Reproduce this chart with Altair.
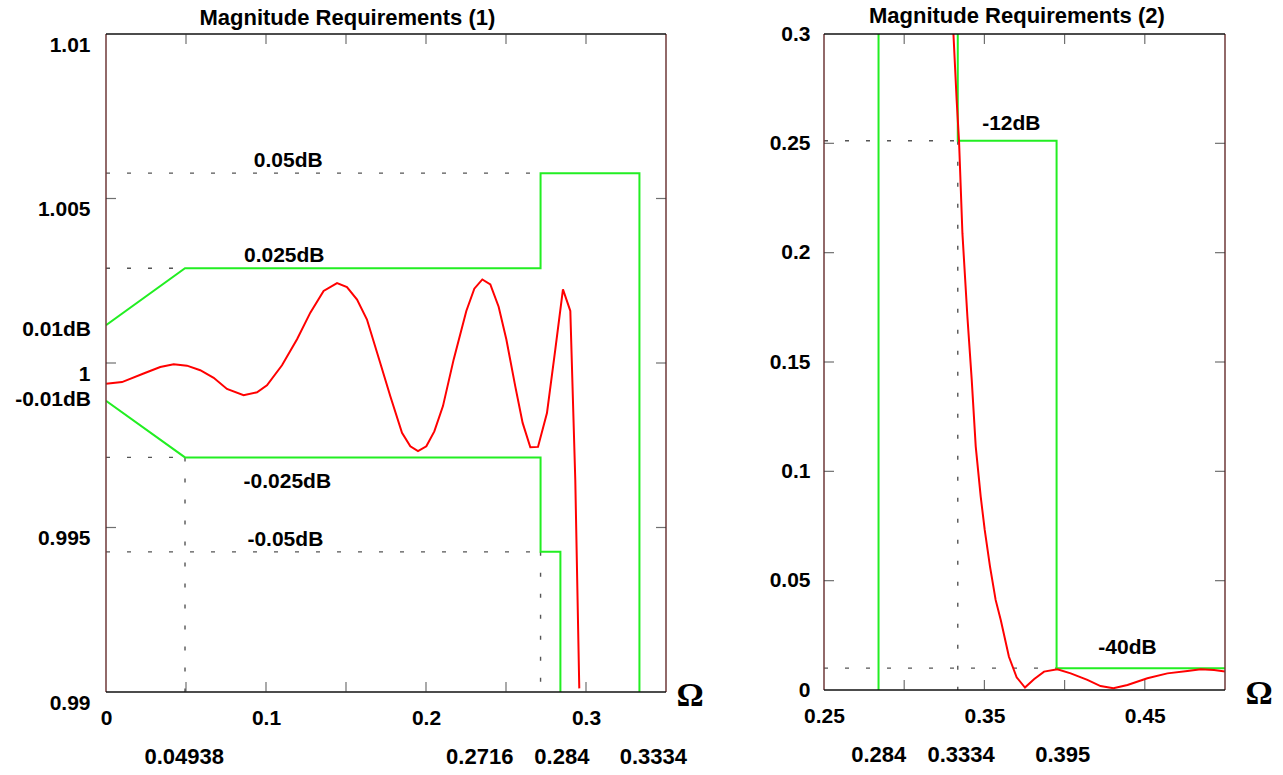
import altair as alt
import pandas as pd

FONT = "Liberation Sans"
GREEN = "#22ee22"
RED = "#ff0000"
DASH = "#555555"
BROWN = "#6e3838"

# ---------------- left panel: passband ----------------
L_XDOM = [0, 0.35]
L_YDOM = [0.99, 1.01]
l_xlabels = [0, 0.1, 0.2, 0.3]
l_ylabels = [0.99, 0.995, 1, 1.005, 1.01]
l_xticks = [0.05, 0.1, 0.15, 0.2, 0.25, 0.3]
l_yticks = [0.995, 1, 1.005]

l_red_x = [0, 0.0100, 0.0235, 0.0339, 0.0423, 0.0506, 0.0589, 0.0673, 0.0756, 0.0860,
           0.0944, 0.1006, 0.1100, 0.1194, 0.1277, 0.1360, 0.1444, 0.1506, 0.1569, 0.1631,
           0.1714, 0.1777, 0.1850, 0.1902, 0.1950, 0.2002, 0.2052, 0.2106, 0.2173, 0.2252,
           0.2302, 0.2352, 0.2402, 0.2454, 0.2502, 0.2558, 0.2604, 0.2652, 0.2700, 0.2756,
           0.2808, 0.2856, 0.2902, 0.2933, 0.2958]
l_red_y = [0.99937, 0.99942, 0.99968, 0.99988, 0.99996, 0.99992, 0.99978, 0.99955, 0.99921, 0.99902,
           0.99911, 0.99932, 0.99993, 1.00072, 1.00153, 1.00219, 1.00243, 1.00231, 1.00193, 1.00132,
           1.00000, 0.99899, 0.99788, 0.99747, 0.99732, 0.99747, 0.99792, 0.99869, 1.00011, 1.00158,
           1.00226, 1.00254, 1.00239, 1.00171, 1.00072, 0.99929, 0.99818, 0.99744, 0.99745, 0.99848,
           1.00041, 1.00224, 1.00158, 0.99645, 0.99011]

l_up_x = [0, 0.04938, 0.2716, 0.2716, 0.3334, 0.3334]
l_up_y = [1.00115, 1.00288, 1.00288, 1.00577, 1.00577, 0.99]
l_lo_x = [0, 0.04938, 0.2716, 0.2716, 0.284, 0.284]
l_lo_y = [0.99885, 0.99713, 0.99713, 0.99426, 0.99426, 0.99]

l_dash_x = [0, 0, 0, 0.04938, 0, 0.2716]
l_dash_x2 = [0.2716, 0.04938, 0.04938, 0.04938, 0.2716, 0.2716]
l_dash_y = [1.00577, 1.00288, 0.99713, 0.99713, 0.99426, 0.99426]
l_dash_y2 = [1.00577, 1.00288, 0.99713, 0.99, 0.99426, 0.99]

l_txt = ["0.05dB", "0.025dB", "-0.025dB", "-0.05dB"]
l_txt_x = [0.1139, 0.1114, 0.1133, 0.1121]
l_txt_y = [1.00614, 1.00325, 0.99638, 0.99461]

l_side_txt = ["0.01dB", "-0.01dB"]
l_side_y = [1.00100, 0.99889]

l_edge_txt = ["0.04938", "0.2716", "0.284", "0.3334"]
l_edge_x = [0.0489, 0.2336, 0.2849, 0.3421]

# ---------------- right panel: stopband ----------------
R_XDOM = [0.25, 0.5]
R_YDOM = [0, 0.3]
r_xlabels = [0.25, 0.35, 0.45]
r_ylabels = [0, 0.05, 0.1, 0.15, 0.2, 0.25, 0.3]
r_xticks = [0.3, 0.35, 0.4, 0.45]
r_yticks = [0.05, 0.1, 0.15, 0.2, 0.25]

r_red_x = [0.3307, 0.3327, 0.3342, 0.3363, 0.3394, 0.3421, 0.3446, 0.3477, 0.3502, 0.3535,
           0.3570, 0.3602, 0.3653, 0.3701, 0.3753, 0.3809, 0.3872, 0.3955, 0.4038, 0.4142,
           0.4224, 0.4304, 0.4392, 0.4516, 0.4641, 0.4766, 0.4849, 0.4932, 0.5]
r_red_y = [0.3, 0.2698, 0.2507, 0.2088, 0.1707, 0.1418, 0.1113, 0.0884, 0.0732, 0.0564,
           0.0412, 0.0320, 0.0152, 0.0058, 0.0011, 0.0049, 0.0084, 0.0095, 0.0076, 0.0046,
           0.0018, 0.0008, 0.0023, 0.0054, 0.0076, 0.0087, 0.0095, 0.0091, 0.0084]

r_pass_x = [0.284, 0.284]
r_pass_y = [0, 0.3]
r_stop_x = [0.3334, 0.3334, 0.395, 0.395, 0.5]
r_stop_y = [0.3, 0.2512, 0.2512, 0.01, 0.01]

r_dash_x = [0.25, 0.3334, 0.25]
r_dash_x2 = [0.3334, 0.3334, 0.395]
r_dash_y = [0.2512, 0.2512, 0.01]
r_dash_y2 = [0.2512, 0, 0.01]

r_txt = ["-12dB", "-40dB"]
r_txt_x = [0.3668, 0.4392]
r_txt_y = [0.2588, 0.0194]

r_edge_txt = ["0.284", "0.3334", "0.395"]
r_edge_x = [0.2841, 0.3355, 0.3988]


def lines_df(series):
    rows = []
    for sid, (xs, ys) in enumerate(series):
        for i, (a, b) in enumerate(zip(xs, ys)):
            rows.append({"x": a, "y": b, "s": sid, "o": i})
    return pd.DataFrame(rows)


def panel(title, title_off, title_dx, xdom, ydom, w, h, xlabels, ylabels, ylab_base, ylab_off,
          ylab_pad, xticks, yticks, red, greens, dashes, texts, edge, omega_dx, side=None):
    xaxis = alt.Axis(values=xlabels, labelExpr="'' + datum.value", ticks=False, domain=False,
                     grid=False, labelFlush=False, labelOverlap=False, labelPadding=15, title=None)
    yaxis = alt.Axis(values=ylabels, labelExpr="'' + datum.value", ticks=False, domain=False,
                     grid=False, labelFlush=False, labelOverlap=False, labelPadding=ylab_pad,
                     labelBaseline=ylab_base, labelOffset=ylab_off, title=None)
    xs = alt.Scale(domain=xdom, nice=False, zero=False)
    ys = alt.Scale(domain=ydom, nice=False, zero=False)

    def X(f="x"):
        return alt.X(f"{f}:Q", scale=xs, axis=xaxis, title=None)

    def Y(f="y"):
        return alt.Y(f"{f}:Q", scale=ys, axis=yaxis, title=None)

    # frame
    frame = pd.DataFrame({
        "x": [xdom[0], xdom[1], xdom[0], xdom[0]],
        "x2": [xdom[0], xdom[1], xdom[1], xdom[1]],
        "y": [ydom[0], ydom[0], ydom[0], ydom[1]],
        "y2": [ydom[1], ydom[1], ydom[0], ydom[1]],
        "c": [BROWN, BROWN, "#111111", "#111111"],
    })
    l_frame = alt.Chart(frame).mark_rule(strokeWidth=1.5).encode(
        x=X(), x2="x2:Q", y=Y(), y2="y2:Q", color=alt.Color("c:N", scale=None))

    # inward ticks
    tv = pd.DataFrame({"x": xticks * 2, "y": [ydom[0]] * len(xticks) + [ydom[1]] * len(xticks)})
    th = pd.DataFrame({"x": [xdom[0]] * len(yticks) + [xdom[1]] * len(yticks), "y": yticks * 2})
    l_tv = alt.Chart(tv).mark_tick(orient="vertical", size=20, thickness=1.2, color="#333333",
                                   clip=True).encode(x=X(), y=Y())
    l_th = alt.Chart(th).mark_tick(orient="horizontal", size=20, thickness=1.2, color="#333333",
                                   clip=True).encode(x=X(), y=Y())

    # dashed guides
    dd = pd.DataFrame({"x": dashes[0], "x2": dashes[1], "y": dashes[2], "y2": dashes[3]})
    l_dash = alt.Chart(dd).mark_rule(color=DASH, strokeWidth=1.4, strokeDash=[4, 17]).encode(
        x=X(), x2="x2:Q", y=Y(), y2="y2:Q")

    # green tolerance mask
    gd = lines_df(greens)
    l_green = alt.Chart(gd).mark_line(color=GREEN, strokeWidth=2, clip=True).encode(
        x=X(), y=Y(), detail="s:N", order="o:Q")

    # red response
    rd = lines_df([red])
    l_red = alt.Chart(rd).mark_line(color=RED, strokeWidth=2, clip=True).encode(
        x=X(), y=Y(), order="o:Q")

    # in-plot labels
    td = pd.DataFrame({"t": texts[0], "x": texts[1], "y": texts[2]})
    l_txt = alt.Chart(td).mark_text(font=FONT, fontSize=21, fontWeight="bold", color="black").encode(
        x=X(), y=Y(), text="t:N")

    # second row of x labels (band edges)
    ed = pd.DataFrame({"t": edge[0], "x": edge[1], "y": [ydom[0]] * len(edge[0])})
    l_edge = alt.Chart(ed).mark_text(font=FONT, fontSize=22, fontWeight="bold", color="black",
                                     dy=65, baseline="middle").encode(x=X(), y=Y(), text="t:N")

    # omega
    od = pd.DataFrame({"t": ["Ω"], "x": [xdom[1]], "y": [ydom[0]]})
    l_om = alt.Chart(od).mark_text(font="Liberation Serif", fontSize=34, fontWeight="bold",
                                   color="black", dx=omega_dx, dy=4, baseline="middle").encode(
        x=X(), y=Y(), text="t:N")

    layers = [l_dash, l_green, l_red, l_frame, l_tv, l_th, l_txt, l_edge, l_om]
    if side is not None:
        sd = pd.DataFrame({"t": side[0], "y": side[1], "x": [xdom[0]] * len(side[0])})
        layers.append(alt.Chart(sd).mark_text(font=FONT, fontSize=21, fontWeight="bold",
                                              color="black", align="right", dx=-15,
                                              baseline="middle").encode(x=X(), y=Y(), text="t:N"))
    return alt.layer(*layers).properties(
        width=w, height=h,
        title=alt.TitleParams(title, font=FONT, fontSize=22, fontWeight="bold", color="black",
                              offset=title_off, frame="bounds", anchor="middle", dx=title_dx))


left = panel("Magnitude Requirements (1)", 3, -12, L_XDOM, L_YDOM, 560, 658, l_xlabels, l_ylabels,
             "top", 0, 16, l_xticks, l_yticks, (l_red_x, l_red_y),
             [(l_up_x, l_up_y), (l_lo_x, l_lo_y)],
             (l_dash_x, l_dash_x2, l_dash_y, l_dash_y2),
             (l_txt, l_txt_x, l_txt_y), (l_edge_txt, l_edge_x), 24,
             side=(l_side_txt, l_side_y))

right = panel("Magnitude Requirements (2)", -5, -4, R_XDOM, R_YDOM, 401, 656, r_xlabels, r_ylabels,
              "middle", 0, 14, r_xticks, r_yticks, (r_red_x, r_red_y),
              [(r_pass_x, r_pass_y), (r_stop_x, r_stop_y)],
              (r_dash_x, r_dash_x2, r_dash_y, r_dash_y2),
              (r_txt, r_txt_x, r_txt_y), (r_edge_txt, r_edge_x), 34)

chart = alt.hconcat(left, right, spacing=65).configure_view(stroke=None).configure_axis(
    labelFont=FONT, labelFontSize=21, labelFontWeight="bold", labelColor="black"
).properties(padding={"left": 15, "top": 5, "right": 5, "bottom": 5}, background="white")

chart.save("out.html", embed_options={"renderer": "svg", "actions": False})
